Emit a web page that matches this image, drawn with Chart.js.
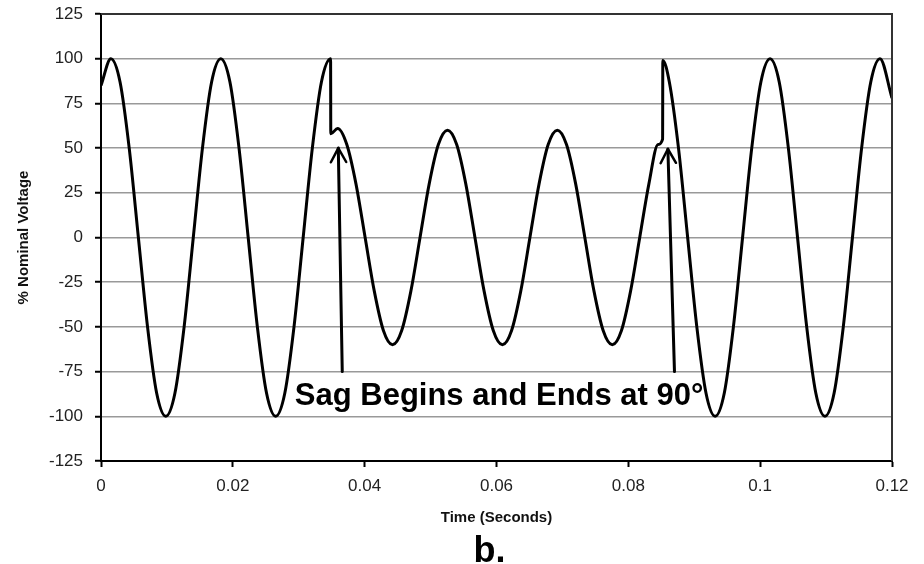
<!DOCTYPE html>
<html><head><meta charset="utf-8">
<script src="https://cdn.jsdelivr.net/npm/chart.js@4"></script>
<style>html,body{margin:0;padding:0;background:#fff}#wrap{width:924px;height:564px;position:relative}</style>
</head><body><div id="wrap"><canvas id="c" width="924" height="564"></canvas></div>
<script>
// Time (s) and % nominal voltage
const timeSeconds = [
  0, 0.0015, 0.00289, 0.00428, 0.00567, 0.00706, 0.00844, 0.00983, 0.01122, 0.01261,
  0.014, 0.01539, 0.01678, 0.01817, 0.01956, 0.02094, 0.02233, 0.02372, 0.02511, 0.0265,
  0.02789, 0.02928, 0.03067, 0.03206, 0.03344, 0.03483,
  0.03486, 0.0359, 0.03729, 0.03868, 0.04007, 0.04146, 0.04284, 0.04423, 0.04562, 0.04701,
  0.0484, 0.04979, 0.05118, 0.05257, 0.05396, 0.05534, 0.05673, 0.05812, 0.05951, 0.0609,
  0.06229, 0.06368, 0.06507, 0.06646, 0.06784, 0.06923, 0.07062, 0.07201, 0.0734, 0.07479,
  0.07618, 0.07757, 0.07896, 0.08034, 0.08173, 0.08312, 0.08451, 0.0852,
  0.08523, 0.08622, 0.08761, 0.089, 0.09039, 0.09178, 0.09317, 0.09456, 0.09594, 0.09733,
  0.09872, 0.10011, 0.1015, 0.10289, 0.10428, 0.10567, 0.10706, 0.10844, 0.10983, 0.11122,
  0.11261, 0.114, 0.11539, 0.11678, 0.11817, 0.12
];
const nominalVoltagePct = [
  85, 100, 87, 50, 0, -50, -87, -100, -87, -50,
  0, 50, 87, 100, 87, 50, 0, -50, -87, -100,
  -87, -50, 0, 50, 87, 100,
  58, 61, 52, 30, 0, -30, -52, -60, -52, -30,
  0, 30, 52, 60, 52, 30, 0, -30, -52, -60,
  -52, -30, 0, 30, 52, 60, 52, 30, 0, -30,
  -52, -60, -52, -30, 0, 30, 52, 55,
  99, 87, 50, 0, -50, -87, -100, -87, -50, 0,
  50, 87, 100, 87, 50, 0, -50, -87, -100, -87,
  -50, 0, 50, 87, 100, 78
];
const xTickLabels = ['0', '0.02', '0.04', '0.06', '0.08', '0.1', '0.12'];
const yTickLabels = ['-125', '-100', '-75', '-50', '-25', '0', '25', '50', '75', '100', '125'];
const annotationText = 'Sag Begins and Ends at 90°';
const panelLabel = 'b.';

const FONT = '"Liberation Sans", Arial, Helvetica, sans-serif';

const annotPlugin = {
  id: 'annot',
  afterDatasetsDraw(chart) {
    const { ctx, chartArea: a, scales: { x, y } } = chart;
    ctx.save();
    // plot frame (top and right)
    ctx.strokeStyle = '#333';
    ctx.lineWidth = 2;
    ctx.beginPath();
    ctx.moveTo(a.left, a.top);
    ctx.lineTo(a.right, a.top);
    ctx.lineTo(a.right, a.bottom);
    ctx.stroke();
    // arrows (data units)
    const arrows = [
      { from: [0.0366, -75], to: [0.0360, 50] },
      { from: [0.0870, -75], to: [0.0860, 49.5] }
    ];
    ctx.strokeStyle = '#000';
    ctx.lineCap = 'round';
    ctx.lineJoin = 'round';
    arrows.forEach(ar => {
      const x0 = x.getPixelForValue(ar.from[0]), y0 = y.getPixelForValue(ar.from[1]);
      const x1 = x.getPixelForValue(ar.to[0]), y1 = y.getPixelForValue(ar.to[1]);
      ctx.lineWidth = 3;
      ctx.beginPath(); ctx.moveTo(x0, y0); ctx.lineTo(x1, y1); ctx.stroke();
      const ang = Math.atan2(y1 - y0, x1 - x0);
      const len = 16, half = 0.5;
      ctx.lineWidth = 2.5;
      ctx.beginPath();
      ctx.moveTo(x1 - len * Math.cos(ang - half), y1 - len * Math.sin(ang - half));
      ctx.lineTo(x1, y1);
      ctx.lineTo(x1 - len * Math.cos(ang + half), y1 - len * Math.sin(ang + half));
      ctx.stroke();
    });
    // annotation text
    ctx.fillStyle = '#000';
    ctx.font = 'bold 31px ' + FONT;
    ctx.textAlign = 'left';
    ctx.textBaseline = 'alphabetic';
    ctx.fillText(annotationText, x.getPixelForValue(0.0294), y.getPixelForValue(-93.6));
    // panel label
    ctx.font = 'bold 36px ' + FONT;
    ctx.textAlign = 'center';
    ctx.fillText(panelLabel, (a.left + a.right) / 2 - 7, 562);
    ctx.restore();
  }
};

new Chart(document.getElementById('c'), {
  type: 'line',
  data: {
    datasets: [{
      data: timeSeconds.map((t, i) => ({ x: t, y: nominalVoltagePct[i] })),
      borderColor: '#000',
      borderWidth: 3,
      pointRadius: 0,
      cubicInterpolationMode: 'monotone',
      fill: false
    }]
  },
  options: {
    responsive: false,
    animation: false,
    devicePixelRatio: 1,
    layout: { padding: { left: 0, right: 32, top: 14, bottom: 0 } },
    plugins: { legend: { display: false }, tooltip: { enabled: false }, title: { display: false } },
    scales: {
      x: {
        type: 'linear', min: 0, max: 0.12,
        afterBuildTicks: s => { s.ticks = xTickLabels.map(l => ({ value: parseFloat(l) })); },
        ticks: {
          callback: (v, i) => xTickLabels[i],
          font: { size: 17, family: FONT }, color: '#222', padding: 9,
          maxRotation: 0, autoSkip: false
        },
        grid: { drawOnChartArea: false, tickLength: 6, tickColor: '#000', tickWidth: 2 },
        border: { color: '#000', width: 2 },
        title: {
          display: true, text: 'Time (Seconds)', color: '#111',
          font: { size: 15, weight: 'bold', family: FONT },
          padding: { top: 4, bottom: 37 }
        },
        afterFit: s => { s.height = 103; s.paddingLeft = 0; s.paddingRight = 0; }
      },
      y: {
        type: 'linear', min: -125, max: 125,
        afterBuildTicks: s => { s.ticks = yTickLabels.map(l => ({ value: parseFloat(l) })); },
        ticks: {
          callback: (v, i) => yTickLabels[i],
          font: { size: 17, family: FONT }, color: '#222', padding: 12
        },
        grid: { color: '#999', lineWidth: 1.5, tickLength: 6, tickColor: '#000', tickWidth: 2 },
        border: { color: '#000', width: 2 },
        title: {
          display: true, text: '% Nominal Voltage', color: '#111',
          font: { size: 15, weight: 'bold', family: FONT },
          padding: { top: 15, bottom: 0 }
        },
        afterFit: s => { s.width = 101; s.paddingTop = 0; s.paddingBottom = 0; }
      }
    }
  },
  plugins: [annotPlugin]
});
</script>
</body></html>
